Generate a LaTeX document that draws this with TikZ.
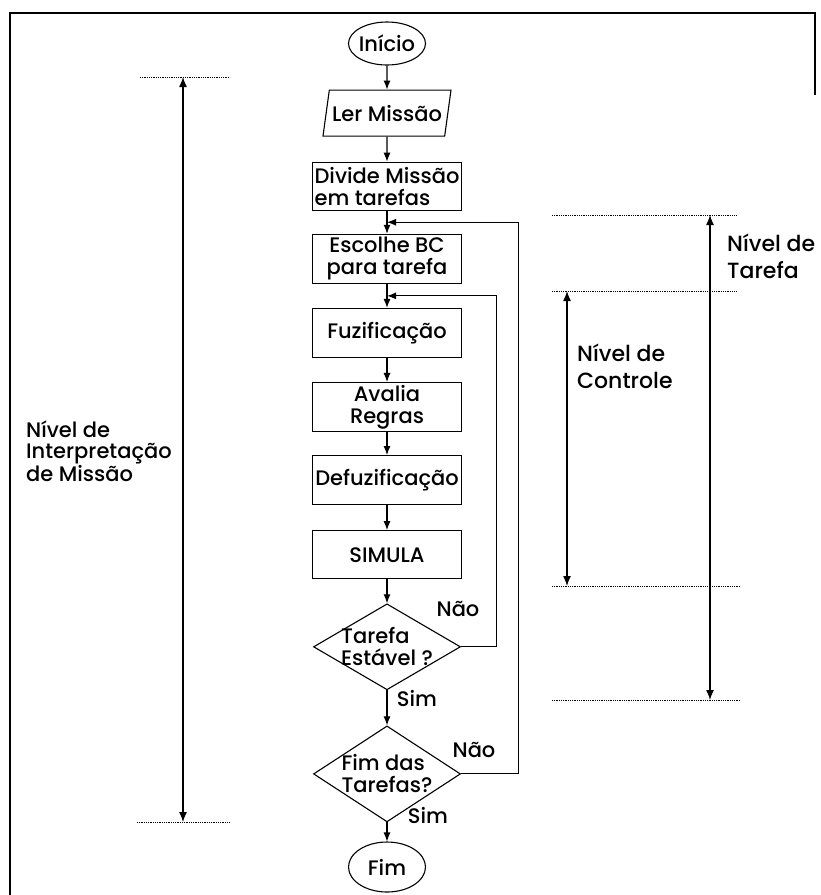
\documentclass[tikz,border=0pt]{standalone}
\usepackage{fontspec}
\setmainfont{Poppins}[UprightFont=* Medium]
\usepackage{tikz}
\usetikzlibrary{shapes.geometric,arrows.meta,positioning,calc}
\newcommand{\chartfont}{\fontsize{21}{22}\selectfont}
\tikzset{
  proc/.style={rectangle, draw=black, line width=1.1pt, fill=white,
               minimum width=149pt, minimum height=49pt, inner sep=0pt, align=center},
  term/.style={ellipse, draw=black, line width=1.1pt, minimum width=77pt,
               minimum height=43pt, inner sep=0pt, label={center:#1}},
  io/.style={trapezium, trapezium left angle=71, trapezium right angle=109,
             trapezium stretches body, draw=black, line width=1.1pt,
             minimum width=128pt, minimum height=46pt, inner sep=1pt},
  dec/.style={diamond, draw=black, line width=1.1pt, minimum width=147pt,
              minimum height=86pt, inner sep=0pt, label={[align=left]center:#1}},
  ar/.style={-{Latex[length=9pt,width=7pt]}, line width=1.1pt},
  lvl/.style={{Latex[length=10pt,width=8pt]}-{Latex[length=10pt,width=8pt]}, line width=1.3pt},
  lim/.style={densely dotted, line width=0.8pt},
  lvltxt/.style={anchor=north west, align=left, inner sep=0pt}
}

\begin{document}
\begin{tikzpicture}[x=1pt, y=-1pt, font=\chartfont, node distance=24pt]
\useasboundingbox (0,0) rectangle (820,895);
\draw[line width=1.6pt] (10,895) -- (10,13) -- (815,13) -- (815,95);

\node[term=Início] (inicio) at (387,43.5) {};
\node[io, below=of inicio] (ler) {Ler Missão};
\node[proc, align=left, below=25pt of ler, minimum height=48pt] (divide) {Divide Missão\\em tarefas};
\node[proc, below=23pt of divide] (escolhe) {Escolhe BC\\para tarefa};
\node[proc, below=of escolhe] (fuzi) {Fuzificação};
\node[proc, below=of fuzi] (avalia) {Avalia\\Regras};
\node[proc, below=23pt of avalia] (defuzi) {Defuzificação};
\node[proc, below=25pt of defuzi, minimum height=48pt] (simula) {SIMULA};
\node[dec={Tarefa\\Estável ?}, below=of simula] (estavel) {};
\node[dec={Fim das\\Tarefas?}, below=35pt of estavel, minimum height=96pt] (fimtar) {};
\node[term=Fim, below=19pt of fimtar, minimum height=50pt] (fim) {};

\coordinate (c0) at ($(divide.south)!0.5!(escolhe.north)$);
\coordinate (c1) at ($(escolhe.south)!0.5!(fuzi.north)$);

\draw[ar] (inicio) -- (ler);
\draw[ar] (ler) -- (divide);
\draw[ar] (divide) -- (escolhe);
\draw[ar] (escolhe) -- (fuzi);
\draw[ar] (fuzi) -- (avalia);
\draw[ar] (avalia) -- (defuzi);
\draw[ar] (defuzi) -- (simula);
\draw[ar] (simula) -- (estavel);
\draw[ar] (estavel) -- (fimtar);
\draw[ar] (fimtar) -- (fim);
\draw[ar] (estavel.east) -- ++(35,0) |- (c1);
\draw[ar] (fimtar.east) -- ++(57,0) |- (c0);

\node (nao1) at (458,609) {Não};
\node (sim1) at (417,698) {Sim};
\node (nao2) at (474,750) {Não};
\node (sim2) at (428,815) {Sim};

\coordinate (mtop) at (183,77);
\coordinate (mbot) at (183,822);
\draw[lim] (140,77) -- (230,77);
\draw[lim] (137,822) -- (230,822);
\draw[lvl] (mtop) -- (mbot);
\node[lvltxt, font=\fontsize{21}{21}\selectfont] (lvlmissao) at (26,421) {Nível de\\Interpretação\\de Missão};

\coordinate (ttop) at (710,215);
\coordinate (tbot) at (710,700);
\draw[lim] (552,215) -- (737,215);
\draw[lim] (552,700) -- (740,700);
\draw[lvl] (ttop) -- (tbot);
\node[lvltxt, font=\fontsize{22}{27}\selectfont] (lvltarefa) at (727,234) {Nível de\\Tarefa};

\coordinate (ctop) at (567,291);
\coordinate (cbot) at (567,586);
\draw[lim] (552,291) -- (737,291);
\draw[lim] (552,586) -- (740,586);
\draw[lvl] (ctop) -- (cbot);
\node[lvltxt, font=\fontsize{22}{27}\selectfont] (lvlcontrole) at (577,344) {Nível de\\Controle};
\end{tikzpicture}
\end{document}
